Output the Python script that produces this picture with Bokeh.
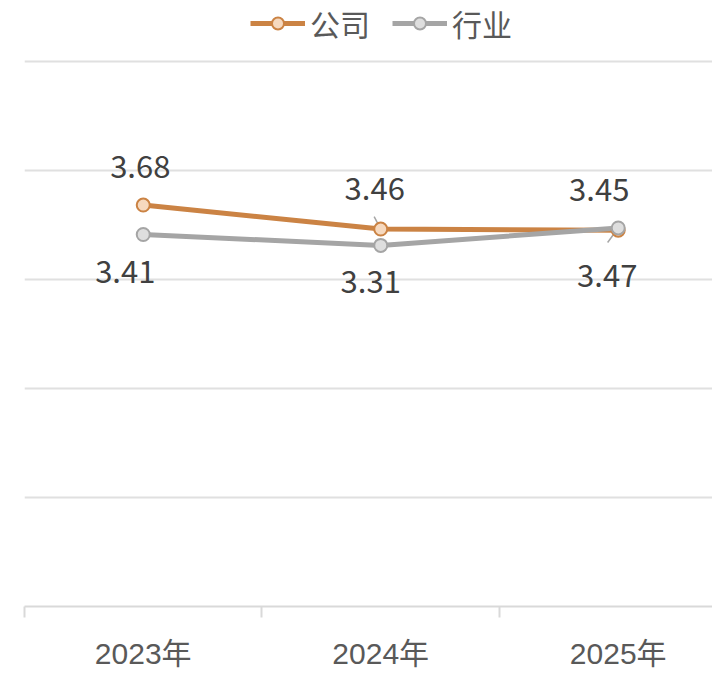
import math
from bokeh.plotting import figure
from bokeh.models import (ColumnDataSource, Range1d, FixedTicker, Legend, LegendItem)
from bokeh.core.properties import value
from bokeh.embed import file_html
from bokeh.resources import INLINE

# ---- data ----
years = ["2023年", "2024年", "2025年"]
company = [3.68, 3.46, 3.45]
industry = [3.41, 3.31, 3.47]
y_ticks = [0, 1, 2, 3, 4, 5]

# label placement (screen px, relative to point)
company_dx = [-3, -6, -19]
company_dy = [-39, -41, -41]
industry_dx = [-18, -10, -11]
industry_dy = [37, 36, 48]
# leader lines (screen px length, degrees); 0 = no leader
company_leader_len = [0, 14, 0]
company_leader_ang = [0, 118, 0]
industry_leader_len = [0, 0, 18]
industry_leader_ang = [0, 0, 234]

FONT = "Noto Sans CJK SC"
AXIS_FONT = "'Liberation Sans', 'Noto Sans CJK SC'"
ORANGE = "#CB8344"
ORANGE_FILL = "#F6D9BF"
GRAY = "#A5A5A5"
GRAY_FILL = "#DEDEDE"

xs = [i + 0.5 for i in range(len(years))]

p = figure(width=712, height=672, output_backend="svg", toolbar_location=None,
           x_range=Range1d(0, 2.897), y_range=Range1d(0, 5.555),
           min_border_left=24, min_border_right=0, min_border_top=0,
           min_border_bottom=61)
p.outline_line_color = None
p.background_fill_color = "white"
p.border_fill_color = "white"

src_c = ColumnDataSource(dict(x=xs, y=company, lab=[f"{v:.2f}" for v in company],
                              dx=company_dx, dy=company_dy))
src_i = ColumnDataSource(dict(x=xs, y=industry, lab=[f"{v:.2f}" for v in industry],
                              dx=industry_dx, dy=industry_dy))

# leader lines only where a length is given
lx, ly, ll, la = [], [], [], []
for vals, lens, angs in ((company, company_leader_len, company_leader_ang),
                         (industry, industry_leader_len, industry_leader_ang)):
    for x, v, n, a in zip(xs, vals, lens, angs):
        if n > 0:
            lx.append(x); ly.append(v); ll.append(n); la.append(math.radians(a))
p.ray(x=lx, y=ly, length=ll, angle=la, length_units="screen",
      line_color="#A6A6A6", line_width=1.5)

l_c = p.line("x", "y", source=src_c, line_color=ORANGE, line_width=5)
l_i = p.line("x", "y", source=src_i, line_color=GRAY, line_width=5)
s_c = p.scatter("x", "y", source=src_c, size=13, fill_color=ORANGE_FILL,
                line_color=ORANGE, line_width=2)
s_i = p.scatter("x", "y", source=src_i, size=13, fill_color=GRAY_FILL,
                line_color=GRAY, line_width=2)

for src in (src_c, src_i):
    p.text("x", "y", text="lab", source=src, x_offset="dx", y_offset="dy",
           text_align="center", text_baseline="middle",
           text_font=value(FONT), text_font_size="31px", text_color="#404040")

# axes
p.yaxis.visible = False
p.ygrid.ticker = FixedTicker(ticks=y_ticks)
p.ygrid.grid_line_color = "#E0E0E0"
p.ygrid.grid_line_width = 2
p.xgrid.visible = False

xa = p.xaxis[0]
xa.ticker = FixedTicker(ticks=xs, minor_ticks=list(range(len(years) + 1)))
xa.major_label_overrides = {x: lab for x, lab in zip(xs, years)}
xa.major_tick_out = 0
xa.major_tick_in = 0
xa.minor_tick_out = 11
xa.minor_tick_in = 0
xa.minor_tick_line_color = "#D9D9D9"
xa.minor_tick_line_width = 2
xa.axis_line_color = "#D9D9D9"
xa.axis_line_width = 2
xa.major_label_standoff = 19
xa.major_label_text_font = AXIS_FONT
xa.major_label_text_font_size = "30px"
xa.major_label_text_color = "#595959"

legend = Legend(items=[LegendItem(label="公司", renderers=[l_c, s_c]),
                       LegendItem(label="行业", renderers=[l_i, s_i])],
                orientation="horizontal", location=(226, 561))
legend.label_text_font = FONT
legend.label_text_font_size = "30px"
legend.label_text_color = "#595959"
legend.glyph_width = 55
legend.glyph_height = 30
legend.label_standoff = 5
legend.spacing = 22
legend.padding = 0
legend.margin = 0
legend.border_line_color = None
legend.background_fill_alpha = 0
p.add_layout(legend)

open("out.html", "w").write(file_html(p, INLINE))
